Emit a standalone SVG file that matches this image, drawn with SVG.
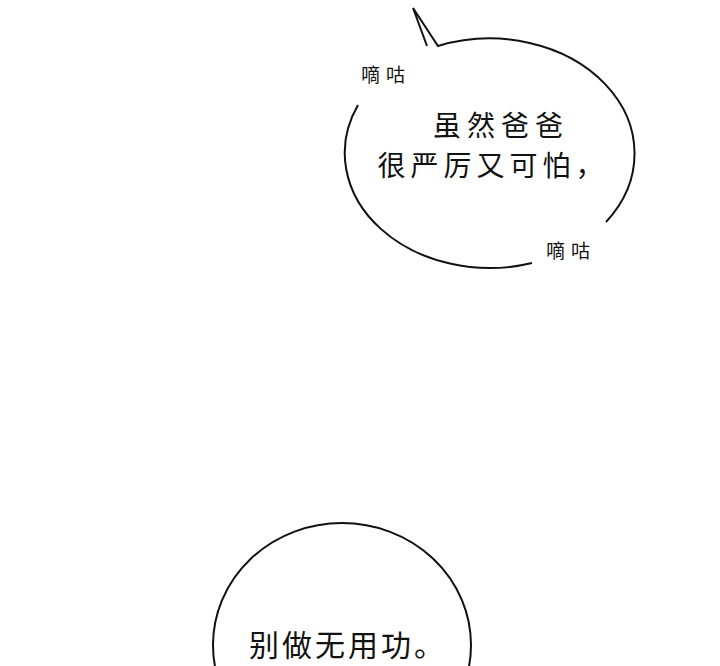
<svg xmlns="http://www.w3.org/2000/svg" width="720" height="666" viewBox="0 0 720 666">
<style>.b{fill:none;stroke:#111;stroke-width:2}.t{font-family:"Noto Sans CJK SC",sans-serif;fill:#111;text-anchor:middle}</style>
<rect width="720" height="666" fill="#fff"/>
<path class="b" d="M427,46 L413,8 L438,46 A145 115 0 0 1 606,222"/>
<path class="b" d="M532,263 A145 115 0 0 1 358,105"/>
<ellipse class="b" cx="342" cy="645" rx="129" ry="122"/>
<text class="t" x="501" y="136" font-size="28" letter-spacing="6">虽然爸爸</text>
<text class="t" x="493" y="176" font-size="28" letter-spacing="5">很严厉又可怕，</text>
<text class="t" x="386" y="82" font-size="19" letter-spacing="6">嘀咕</text>
<text class="t" x="571" y="258" font-size="19" letter-spacing="6">嘀咕</text>
<text class="t" x="348" y="656" font-size="30" letter-spacing="3">别做无用功。</text>
</svg>
